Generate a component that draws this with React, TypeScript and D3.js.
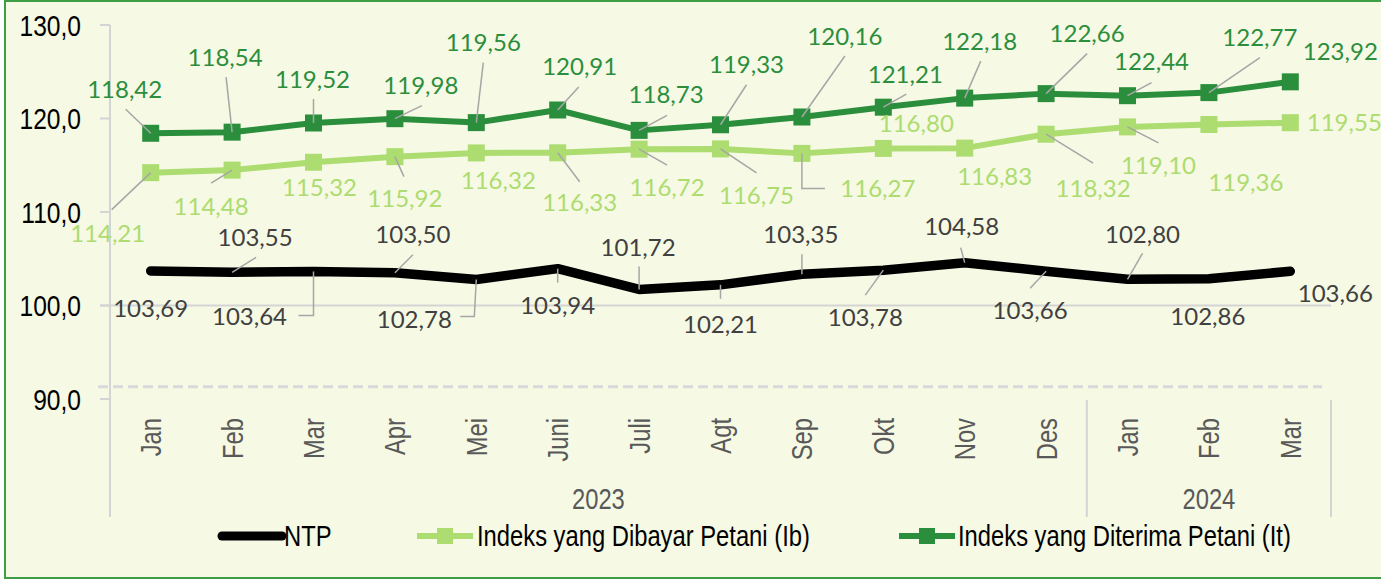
import React from "react";
import * as d3 from "d3";

// ---------- data ----------
const months = ["Jan", "Feb", "Mar", "Apr", "Mei", "Juni", "Juli", "Agt", "Sep", "Okt", "Nov", "Des", "Jan", "Feb", "Mar"];
const yearLabels = ["2023", "2024"];
const yearStart = [0, 12];
const yearEnd = [11, 14];
const ntpValues = [103.69, 103.55, 103.64, 103.5, 102.78, 103.94, 101.72, 102.21, 103.35, 103.78, 104.58, 103.66, 102.8, 102.86, 103.66];
const ibValues = [114.21, 114.48, 115.32, 115.92, 116.32, 116.33, 116.72, 116.75, 116.27, 116.8, 116.83, 118.32, 119.1, 119.36, 119.55];
const itValues = [118.42, 118.54, 119.52, 119.98, 119.56, 120.91, 118.73, 119.33, 120.16, 121.21, 122.18, 122.66, 122.44, 122.77, 123.92];
const yTickValues = [90, 100, 110, 120, 130];
const seriesNames = ["NTP", "Indeks yang Dibayar Petani (Ib)", "Indeks yang Diterima Petani (It)"];

// ---------- label layout (offsets from the point, px) ----------
type Lay = [number, number, [number, number][] | null];
const itLayout: Lay[] = [
  [-26, -44, [[-25, -24]]],
  [-7, -75, [[-6, -55]]],
  [-1, -44, [[0, -24]]],
  [26, -33, [[27, -13]]],
  [7, -80, [[7, -60]]],
  [22, -44, [[21, -23]]],
  [27, -36, [[28, -15]]],
  [26, -60, [[26, -40]]],
  [43, -81, [[43, -61]]],
  [22, -33, [[23, -13]]],
  [15, -57, [[16, -37]]],
  [41, -60, [[41, -40]]],
  [24, -34, [[24, -13]]],
  [51, -55, [[51, -35]]],
  [50, -30, null],
];
const ibLayout: Lay[] = [
  [-43, 61, [[-39, 37]]],
  [-21, 36, [[-21, 13]]],
  [6, 25, null],
  [10, 42, [[9, 20]]],
  [22, 27, null],
  [22, 50, [[22, 29]]],
  [28, 38, [[28, 16]]],
  [36, 46, [[36, 24]]],
  [76, 35, [[0, 35], [23, 35]]],
  [33, -25, null],
  [30, 28, null],
  [47, 54, [[47, 29]]],
  [31, 38, [[31, 16]]],
  [37, 58, null],
  [54, 0, null],
];
const ntpLayout: Lay[] = [
  [0, 37, null],
  [23, -35, [[24, -15]]],
  [-64, 45, [[0, 44], [-15, 44]]],
  [18, -38, [[18, -18]]],
  [-62, 40, [[-2, 37], [-16, 37]]],
  [0, 37, [[0, 14]]],
  [-1, -42, [[0, -23]]],
  [0, 40, [[0, 14]]],
  [-1, -40, [[0, -20]]],
  [-18, 47, [[-18, 25]]],
  [-3, -36, [[-4, -15]]],
  [-16, 39, [[-16, 17]]],
  [15, -45, [[15, -26]]],
  [-1, 38, null],
  [45, 22, null],
];

// ---------- styles ----------
const W = 1381;
const H = 579;
const BG = "#F6F9E4";
const FRAME = "#3E9E45";
const IT_COLOR = "#2B8E3C";
const IB_COLOR = "#ADDC70";
const NTP_COLOR = "#000000";
const NTP_LABEL = "#404040";
const AXIS_GREY = "#D4D4D4";
const LEADER = "#A6A6A6";
const TEXT_GREY = "#595959";
const NARROW = "'Liberation Sans', Arial, sans-serif";
const LABEL_FONT = "Lato, 'Open Sans', sans-serif";
const fmt = (v: number, d: number) => v.toFixed(d).replace(".", ",");

const NText = (p: { x: number; y: number; anchor?: string; size: number; fill: string; rotate?: boolean; dy?: string; children: any }) => (
  <text
    transform={`translate(${p.x},${p.y})${p.rotate ? " rotate(-90)" : ""} scale(0.82,1)`}
    textAnchor={p.anchor || "start"}
    fontFamily={NARROW}
    fontSize={p.size}
    fill={p.fill}
    dy={p.dy}
  >
    {p.children}
  </text>
);

export default function App() {
  const idx = months.map((_, i) => i);
  const x = d3.scaleBand<number>().domain(idx).range([110, 1331]).padding(0);
  const cx = (i: number) => (x(i) as number) + x.bandwidth() / 2;
  const y = d3.scaleLinear().domain([90, 130]).range([399, 25]);

  const line = d3
    .line<number>()
    .x((_, i) => cx(i))
    .y((v) => y(v));

  const series = [
    { values: ntpValues, color: NTP_COLOR, width: 9.5, marker: false, layout: ntpLayout, labelColor: NTP_LABEL },
    { values: ibValues, color: IB_COLOR, width: 6, marker: true, layout: ibLayout, labelColor: IB_COLOR },
    { values: itValues, color: IT_COLOR, width: 6, marker: true, layout: itLayout, labelColor: IT_COLOR },
  ];
  const M = 17;

  return (
    <svg width={W} height={H} style={{ position: "absolute", left: 0, top: 0, background: "#fff" }}>
      <rect x={5} y={1} width={W + 2} height={577} fill={BG} stroke={FRAME} strokeWidth={2} />

      {/* axis-break dashed line */}
      <line x1={98} x2={1322} y1={y(91.3)} y2={y(91.3)} stroke="#D9D9D9" strokeWidth={3} strokeDasharray="10 5" />

      {/* y axis */}
      <line x1={110} x2={110} y1={y(130)} y2={517} stroke={AXIS_GREY} strokeWidth={2} />
      {yTickValues.map((t) => (
        <g key={t}>
          <line x1={100} x2={110} y1={y(t)} y2={y(t)} stroke={AXIS_GREY} strokeWidth={2} />
          <NText x={81} y={y(t)} dy="0.36em" anchor="end" size={30} fill="#000">
            {fmt(t, 1)}
          </NText>
        </g>
      ))}
      {/* category axis line crossing at 100 */}
      <line x1={100} x2={1331} y1={y(100)} y2={y(100)} stroke={AXIS_GREY} strokeWidth={2} />

      {/* category labels */}
      {months.map((m, i) => (
        <NText key={i} x={cx(i)} y={418} rotate anchor="end" dy="0.36em" size={29} fill={TEXT_GREY}>
          {m}
        </NText>
      ))}
      {yearLabels.map((yl, k) => {
        const x0 = x(yearStart[k]) as number;
        const x1 = (x(yearEnd[k]) as number) + x.bandwidth();
        return (
          <g key={yl}>
            <line x1={x1} x2={x1} y1={400} y2={517} stroke={AXIS_GREY} strokeWidth={2} />
            <NText x={(x0 + x1) / 2} y={499} dy="0.36em" anchor="middle" size={29} fill={TEXT_GREY}>
              {yl}
            </NText>
          </g>
        );
      })}

      {/* series */}
      {series.map((s, k) => (
        <g key={k}>
          <path d={line(s.values) || ""} fill="none" stroke={s.color} strokeWidth={s.width} strokeLinejoin="round" strokeLinecap="round" />
          {s.marker &&
            s.values.map((v, i) => <rect key={i} x={cx(i) - M / 2} y={y(v) - M / 2} width={M} height={M} fill={s.color} />)}
        </g>
      ))}

      {/* leader lines and labels */}
      {series.map((s, k) => (
        <g key={"l" + k}>
          {s.values.map((v, i) => {
            const px = cx(i);
            const py = y(v);
            const [dx, dy, leader] = s.layout[i];
            return (
              <g key={i}>
                {leader && (
                  <polyline
                    points={[[0, 0], ...leader].map((p) => `${px + p[0]},${py + p[1]}`).join(" ")}
                    fill="none"
                    stroke={LEADER}
                    strokeWidth={1.5}
                  />
                )}
                <text x={px + dx} y={py + dy} dy="0.36em" textAnchor="middle" fontFamily={LABEL_FONT} fontSize={24} fill={s.labelColor}>
                  {fmt(v, 2)}
                </text>
              </g>
            );
          })}
        </g>
      ))}

      {/* legend */}
      <g>
        <line x1={222} x2={282} y1={536} y2={536} stroke={NTP_COLOR} strokeWidth={9} strokeLinecap="round" />
        <NText x={284} y={536} dy="0.36em" size={29} fill="#000">{seriesNames[0]}</NText>
        <line x1={417} x2={473} y1={536} y2={536} stroke={IB_COLOR} strokeWidth={6} />
        <rect x={445 - 8} y={536 - 8} width={16} height={16} fill={IB_COLOR} />
        <NText x={477} y={536} dy="0.36em" size={29} fill="#000">{seriesNames[1]}</NText>
        <line x1={899} x2={955} y1={536} y2={536} stroke={IT_COLOR} strokeWidth={6} />
        <rect x={927 - 8} y={536 - 8} width={16} height={16} fill={IT_COLOR} />
        <NText x={958} y={536} dy="0.36em" size={29} fill="#000">{seriesNames[2]}</NText>
      </g>
    </svg>
  );
}
